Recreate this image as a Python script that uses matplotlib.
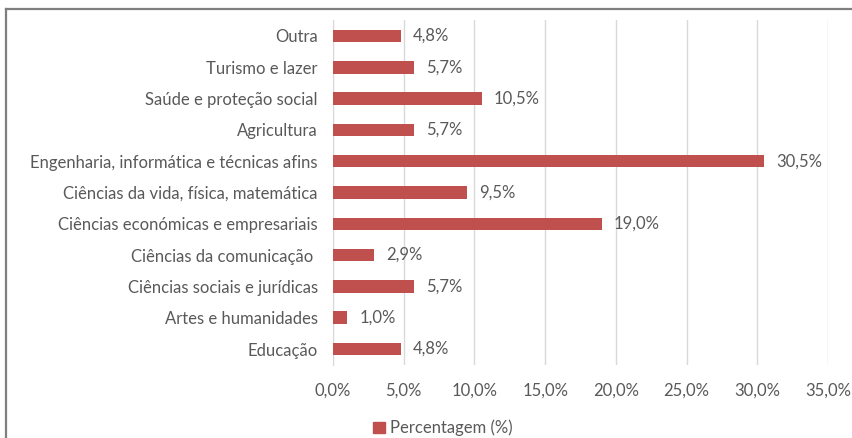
import matplotlib
matplotlib.use('Agg')
import matplotlib.pyplot as plt
from matplotlib.lines import Line2D
from matplotlib.patches import Patch

categories = ["Educação", "Artes e humanidades", "Ciências sociais e jurídicas",
              "Ciências da comunicação ", "Ciências económicas e empresariais",
              "Ciências da vida, física, matemática",
              "Engenharia, informática e técnicas afins", "Agricultura",
              "Saúde e proteção social", "Turismo e lazer", "Outra"]
values = [4.8, 1.0, 5.7, 2.9, 19.0, 9.5, 30.5, 5.7, 10.5, 5.7, 4.8]
xticks = [0, 5, 10, 15, 20, 25, 30, 35]

bar_color = '#C0504D'
text_color = '#595959'
plt.rcParams['font.family'] = ['Lato', 'DejaVu Sans']

fig = plt.figure(figsize=(8.52, 4.38), dpi=100)
ax = fig.add_axes([333 / 852, 1 - 364.7 / 438, (828 - 333) / 852, (364.7 - 20.3) / 438])

y = range(len(categories))
ax.barh(y, values, height=0.4, color=bar_color, zorder=3)
for yi, v in zip(y, values):
    ax.text(v + 0.85, yi, f"{v:.1f}%".replace('.', ','), va='center', ha='left',
            fontsize=12, color=text_color)

ax.set_xlim(0, 35)
ax.set_ylim(-0.5, len(categories) - 0.5)
ax.set_xticks(xticks)
ax.set_xticklabels([f"{t:.1f}%".replace('.', ',') for t in xticks])
ax.set_yticks(list(y))
ax.set_yticklabels(categories)
ax.tick_params(axis='both', length=0, labelsize=12, labelcolor=text_color)
ax.tick_params(axis='x', pad=13)
ax.tick_params(axis='y', pad=11)
ax.grid(axis='x', color='#D9D9D9', linewidth=1, zorder=0)
for s in ['top', 'right', 'bottom']:
    ax.spines[s].set_visible(False)
ax.spines['left'].set_color('#D9D9D9')

# legend
handle = Patch(color=bar_color)
fig.legend([handle], ["Percentagem (%)"], loc='center', bbox_to_anchor=(443 / 852, 1 - 428 / 438),
           frameon=False, fontsize=12, handlelength=0.7, handleheight=0.7, handletextpad=0.3,
           labelcolor=text_color)

# chart border
fig.add_artist(Line2D([6 / 852, 1], [1 - 9 / 438, 1 - 9 / 438], color='#7F7F7F', linewidth=1.6))
fig.add_artist(Line2D([6 / 852, 6 / 852], [0, 1 - 9 / 438], color='#7F7F7F', linewidth=1.6))

fig.savefig('out.png', dpi=100)
